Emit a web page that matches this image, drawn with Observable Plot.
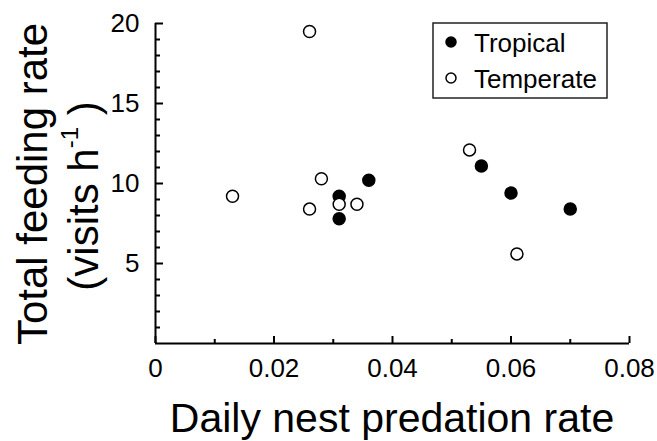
<!DOCTYPE html>
<html>
<head>
<meta charset="utf-8">
<script src="https://cdn.jsdelivr.net/npm/d3@7"></script>
<script src="https://cdn.jsdelivr.net/npm/@observablehq/plot@0.6"></script>
<style>
  html, body { margin: 0; padding: 0; background: #fff; }
  #chart svg { display: block; }
</style>
</head>
<body>
<div id="chart"></div>
<script>
// ---- data ----
const groups = ["Tropical", "Temperate"];
const tropicalX = [0.031, 0.031, 0.036, 0.055, 0.060, 0.070];
const tropicalY = [9.2, 7.8, 10.2, 11.1, 9.4, 8.4];
const temperateX = [0.013, 0.026, 0.026, 0.028, 0.031, 0.034, 0.053, 0.061];
const temperateY = [9.2, 19.5, 8.4, 10.3, 8.7, 8.7, 12.1, 5.6];
const xMajorTicks = [0, 0.02, 0.04, 0.06, 0.08];
const xMinorTicks = [0.01, 0.03, 0.05, 0.07];
const yMajorTicks = [5, 10, 15, 20];
const yMinorTicks = [1,2,3,4,6,7,8,9,11,12,13,14,16,17,18,19];
const xTitle = "Daily nest predation rate";
const yTitle1 = "Total feeding rate";
const yTitle2a = "(visits h";
const yTitle2sup = "-1";
const yTitle2b = ")";

const rows = [
  ...tropicalX.map((x, i) => ({x, y: tropicalY[i], group: groups[0]})),
  ...temperateX.map((x, i) => ({x, y: temperateY[i], group: groups[1]}))
];

const font = "'Liberation Sans', Arial, Helvetica, sans-serif";

const chart = Plot.plot({
  width: 657,
  height: 441,
  marginLeft: 155,
  marginRight: 28,
  marginTop: 23,
  marginBottom: 98,
  style: {fontFamily: font, color: "#000", background: "#fff"},
  x: {domain: [0, 0.08]},
  y: {domain: [0, 20]},
  marks: [
    Plot.axisX(xMajorTicks, {tickSize: -7, tickPadding: 22, fontSize: 26, strokeWidth: 2,
      tickFormat: d => d === 0 ? "0" : d3.format(".2f")(d), label: null}),
    Plot.axisX(xMinorTicks, {tickSize: -4, strokeWidth: 2, tickFormat: () => "", label: null}),
    Plot.axisY(yMajorTicks, {tickSize: -8, tickPadding: 24, fontSize: 26, strokeWidth: 2,
      tickFormat: d => String(d), label: null}),
    Plot.axisY(yMinorTicks, {tickSize: -5, strokeWidth: 2, tickFormat: () => "", label: null}),
    Plot.ruleY([0], {stroke: "#000", strokeWidth: 2}),
    Plot.ruleX([0], {stroke: "#000", strokeWidth: 2}),
    Plot.dot(rows.filter(d => d.group === groups[0]), {x: "x", y: "y", r: 6, fill: "#000", stroke: "#000", strokeWidth: 1.5}),
    Plot.dot(rows.filter(d => d.group === groups[1]), {x: "x", y: "y", r: 6, fill: "#fff", stroke: "#000", strokeWidth: 1.5})
  ]
});

document.getElementById("chart").appendChild(chart);

const svg = d3.select(chart);

// ---- titles and legend ----
svg.append("text")
  .attr("x", 392).attr("y", 432)
  .attr("text-anchor", "middle")
  .attr("font-family", font).attr("font-size", 41).attr("fill", "#000")
  .text(xTitle);

svg.append("text")
  .attr("transform", "translate(47,184) rotate(-90)")
  .attr("text-anchor", "middle")
  .attr("font-family", font).attr("font-size", 42).attr("fill", "#000")
  .text(yTitle1);

const t2 = svg.append("text")
  .attr("transform", "translate(98,196) rotate(-90)")
  .attr("text-anchor", "middle")
  .attr("font-family", font).attr("font-size", 42).attr("fill", "#000");
t2.append("tspan").text(yTitle2a);
t2.append("tspan").attr("font-size", 24).attr("dy", -20).text(yTitle2sup);
t2.append("tspan").attr("dy", 20).text(" " + yTitle2b);

const lg = svg.append("g");
lg.append("rect")
  .attr("x", 433).attr("y", 23).attr("width", 174).attr("height", 75)
  .attr("fill", "#fff").attr("stroke", "#222").attr("stroke-width", 1.5);
const legendFill = ["#000", "#fff"];
const legendY = [42, 78];
groups.forEach((g, i) => {
  lg.append("circle").attr("cx", 451).attr("cy", legendY[i]).attr("r", 5)
    .attr("fill", legendFill[i]).attr("stroke", "#000").attr("stroke-width", 1.5);
  lg.append("text").attr("x", 474).attr("y", legendY[i] + 10)
    .attr("text-anchor", "start")
    .attr("font-family", font).attr("font-size", 26).attr("fill", "#000")
    .text(g);
});
</script>
</body>
</html>
